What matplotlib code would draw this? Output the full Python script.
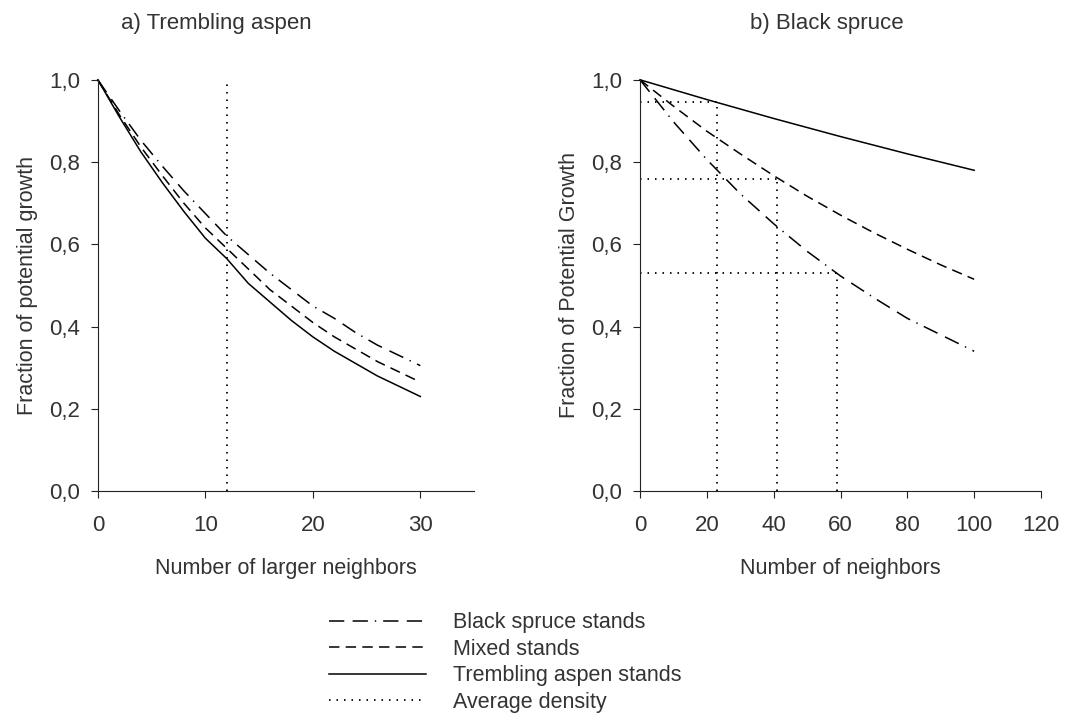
import matplotlib.pyplot as plt
from matplotlib.lines import Line2D

plt.rcParams['font.family'] = ['Liberation Sans', 'DejaVu Sans']
plt.rcParams['lines.scale_dashes'] = False

TXT = '#333333'

## a) Trembling aspen
xa = [0, 2, 4, 6, 8, 10, 12, 14, 16, 18, 20, 22, 24, 26, 28, 30]
a_spruce = [1.0, .925, .853, .79, .73, .675, .62, .575, .53, .49, .45, .42, .385, .355, .33, .305]
a_mixed = [1.0, .915, .837, .767, .70, .64, .59, .54, .49, .45, .41, .375, .345, .315, .29, .265]
a_aspen = [1.0, .91, .825, .75, .68, .615, .565, .505, .46, .415, .375, .34, .31, .28, .255, .23]
a_avg = 12

## b) Black spruce
xb = [0, 10, 20, 30, 40, 50, 60, 70, 80, 90, 100]
b_spruce = [1.0, .898, .806, .723, .65, .583, .523, .47, .42, .38, .34]
b_mixed = [1.0, .936, .875, .82, .767, .717, .671, .628, .588, .55, .515]
b_aspen = [1.0, .976, .952, .929, .906, .884, .862, .841, .82, .80, .78]
b_avg_x = [23, 41, 59]
b_avg_y = [0.945, 0.76, 0.53]

styles = {
    'spruce': dict(color='black', lw=1.1, dashes=(11, 6, 11, 5, 1, 5)),
    'mixed': dict(color='black', lw=1.1, dashes=(7.5, 4.5)),
    'aspen': dict(color='black', lw=1.1, ls='-'),
    'avg': dict(color='black', lw=1.3, dashes=(1.1, 4.3)),
}

fig = plt.figure(figsize=(10.69, 7.19), dpi=100)
ax1 = fig.add_axes([0.0915, 0.317, 0.352, 0.572])
ax2 = fig.add_axes([0.5987, 0.317, 0.3751, 0.572])

ax1.plot([a_avg, a_avg], [0, 1.0], clip_on=False, **styles['avg'])
ax1.plot(xa, a_spruce, clip_on=False, **styles['spruce'])
ax1.plot(xa, a_mixed, clip_on=False, **styles['mixed'])
ax1.plot(xa, a_aspen, clip_on=False, **styles['aspen'])

for x, y in zip(b_avg_x, b_avg_y):
    ax2.plot([x, x], [0, y], **styles['avg'])
    ax2.plot([0, x], [y, y], **styles['avg'])
ax2.plot(xb, b_spruce, clip_on=False, **styles['spruce'])
ax2.plot(xb, b_mixed, clip_on=False, **styles['mixed'])
ax2.plot(xb, b_aspen, clip_on=False, **styles['aspen'])

yt = [0, 0.2, 0.4, 0.6, 0.8, 1.0]
ylab = ['0,0', '0,2', '0,4', '0,6', '0,8', '1,0']
for ax in (ax1, ax2):
    ax.set_ylim(0, 1.0)
    ax.set_yticks(yt)
    ax.set_yticklabels(ylab)
    ax.spines['top'].set_visible(False)
    ax.spines['right'].set_visible(False)
    ax.spines['left'].set_color('#222222')
    ax.spines['bottom'].set_color('#222222')
    ax.tick_params(direction='out', length=5, width=0.8, colors='#222222',
                   labelcolor=TXT, labelsize=16)
    ax.tick_params(axis='x', pad=12)
    ax.tick_params(axis='y', pad=8)

ax1.set_xlim(0, 35)
ax1.set_xticks([0, 10, 20, 30])
ax2.set_xlim(0, 120)
ax2.set_xticks([0, 20, 40, 60, 80, 100, 120])

ax1.set_xlabel('Number of larger neighbors', fontsize=15.5, color=TXT, labelpad=16)
ax2.set_xlabel('Number of neighbors', fontsize=15.5, color=TXT, labelpad=16)
ax1.set_ylabel('Fraction of potential growth', fontsize=15.5, color=TXT, labelpad=8)
ax2.set_ylabel('Fraction of Potential Growth', fontsize=15.5, color=TXT, labelpad=8)

fig.text(0.202, 0.968, 'a) Trembling aspen', fontsize=16, color=TXT, ha='center', va='center')
fig.text(0.773, 0.968, 'b) Black spruce', fontsize=16, color=TXT, ha='center', va='center')

handles = [Line2D([], [], **styles['spruce']),
           Line2D([], [], **styles['mixed']),
           Line2D([], [], **styles['aspen']),
           Line2D([], [], **styles['avg'])]
labels = ['Black spruce stands', 'Mixed stands', 'Trembling aspen stands', 'Average density']
leg = fig.legend(handles, labels, loc='lower left', bbox_to_anchor=(0.29, -0.018),
                 frameon=False, fontsize=15.5, handlelength=4.5, handletextpad=1.25,
                 labelspacing=0.25, labelcolor=TXT)

fig.savefig('out.png', dpi=100)
